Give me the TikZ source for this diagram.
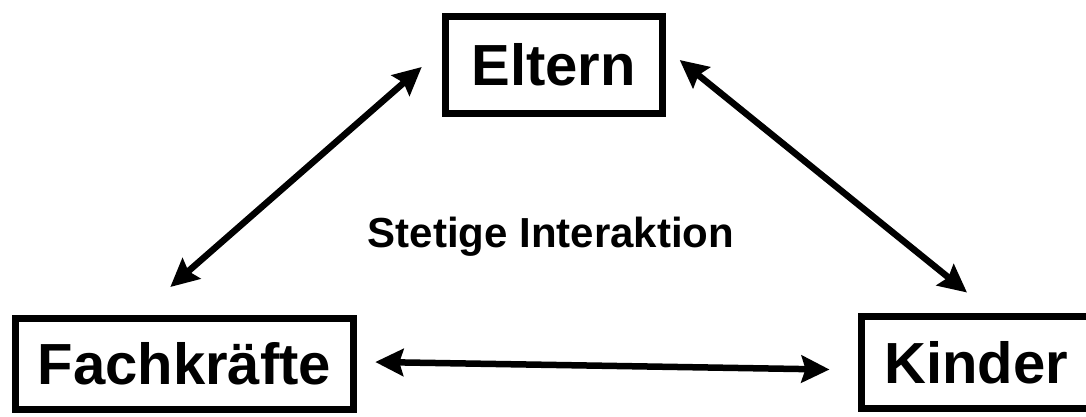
\documentclass[tikz,border=0pt]{standalone}
\usepackage{fontspec}
\setmainfont{Liberation Sans}
\usetikzlibrary{arrows.meta,positioning}

\begin{document}
\begin{tikzpicture}[x=1pt,y=-1pt,
  box/.style={draw, line width=7pt, inner sep=0pt,
    font=\fontsize{58}{70}\selectfont\bfseries},
  arr/.style={{Stealth[length=28pt,width=27pt,inset=4pt]}-{Stealth[length=28pt,width=27pt,inset=4pt]},
    line width=6.5pt}]
  \useasboundingbox (0,0) rectangle (1086,416);
  \node[box, minimum width=217pt, minimum height=97pt] (eltern) at (553.7,65) {Eltern};
  \node[box, minimum width=338pt, minimum height=91pt] (fach) at (184.3,364) {Fachkräfte};
  \node[box, minimum width=229pt, minimum height=92pt] (kinder) at (976,362.5) {Kinder};
  \node[font=\fontsize{42}{50}\selectfont\bfseries, anchor=base] (label) at (551,247) {Stetige Interaktion};
  % Pfeile
  \draw[arr] ([xshift=-20pt,yshift=-2pt]eltern.west) -- ([xshift=-14pt,yshift=28pt]fach.north);
  \draw[arr] ([xshift=14pt,yshift=5pt]eltern.east) -- ([xshift=-9pt,yshift=20.5pt]kinder.north);
  \draw[arr] ([xshift=18.5pt,yshift=2pt]fach.east) -- ([xshift=-28.5pt,yshift=-7pt]kinder.west);
\end{tikzpicture}
\end{document}
